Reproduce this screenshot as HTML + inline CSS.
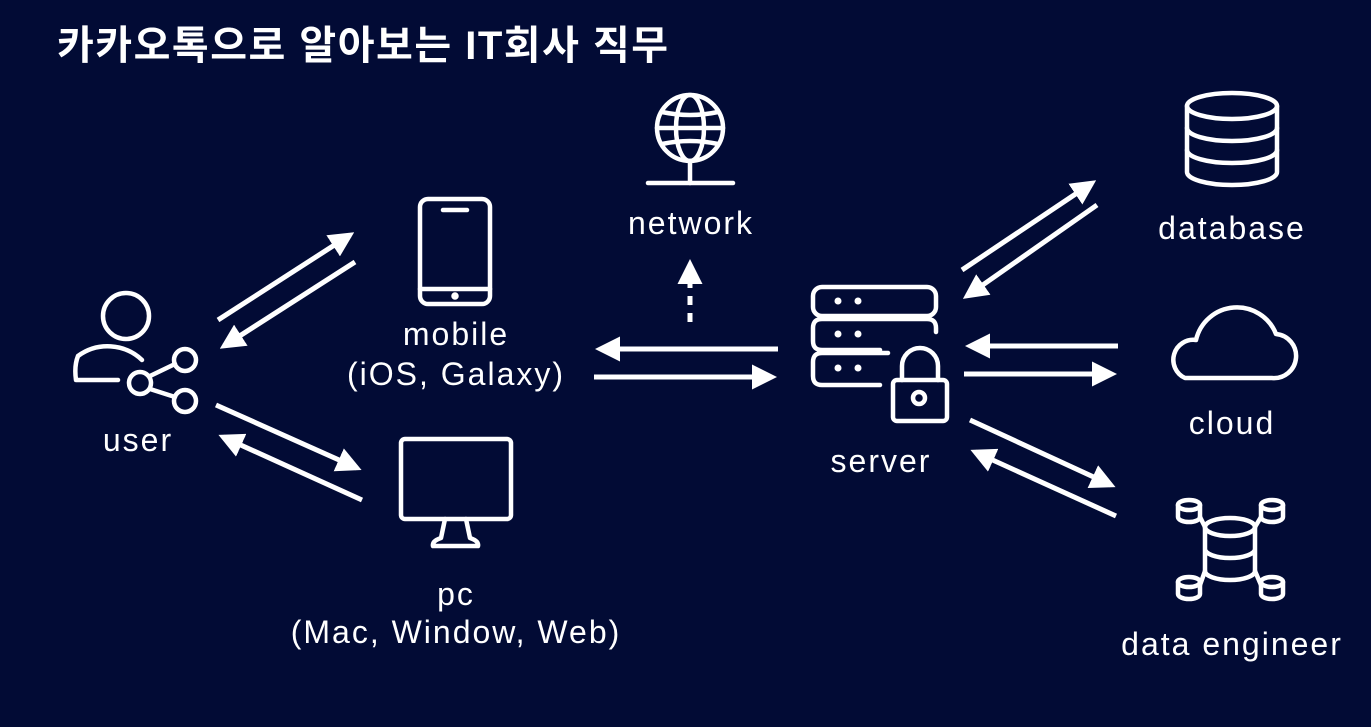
<!DOCTYPE html>
<html><head><meta charset="utf-8"><style>
html,body{margin:0;padding:0;background:#020b35;}
svg{display:block}
text{font-family:"Liberation Sans","Noto Sans CJK KR",sans-serif;fill:#fff;}
</style></head><body>
<svg width="1371" height="727" viewBox="0 0 1371 727" xmlns="http://www.w3.org/2000/svg">
<defs>
<marker id="a" markerWidth="5" markerHeight="5" refX="4" refY="2.5" orient="auto" markerUnits="strokeWidth">
<path d="M0,0 L5,2.5 L0,5 Z" fill="#fff"/></marker>
</defs>
<rect width="1371" height="727" fill="#020b35"/>
<text x="57" y="59" font-size="40" font-weight="bold" letter-spacing="1.5">카카오톡으로 알아보는 IT회사 직무</text>
<g stroke="#fff" stroke-width="5" fill="none" marker-end="url(#a)">
<line x1="218" y1="320" x2="350" y2="235"/>
<line x1="355" y1="262" x2="224" y2="346"/>
<line x1="216" y1="405" x2="357" y2="468"/>
<line x1="362" y1="500" x2="223" y2="437"/>
<line x1="778" y1="349" x2="600" y2="349"/>
<line x1="594" y1="377" x2="772" y2="377"/>
<line x1="690" y1="322" x2="690" y2="264" stroke-dasharray="9,8"/>
<line x1="962" y1="270" x2="1092" y2="183"/>
<line x1="1097" y1="205" x2="967" y2="296"/>
<line x1="1118" y1="346" x2="970" y2="346"/>
<line x1="964" y1="374" x2="1112" y2="374"/>
<line x1="970" y1="420" x2="1111" y2="485"/>
<line x1="1116" y1="516" x2="975" y2="452"/>
</g>
<g stroke="#fff" stroke-width="4.5" fill="none" stroke-linecap="round" stroke-linejoin="round">
<circle cx="126" cy="316" r="23"/>
<path d="M142,360 A50,50 0 0 0 78,356 Q74,366 76,380 L118,380"/>
<circle cx="185" cy="360" r="11"/><circle cx="140" cy="383" r="11"/><circle cx="185" cy="401" r="11"/>
<line x1="150" y1="376" x2="175" y2="364"/><line x1="150" y1="389" x2="175" y2="397"/>
<rect x="420" y="199" width="70" height="105" rx="8"/>
<line x1="443" y1="210" x2="467" y2="210"/>
<line x1="420" y1="289" x2="490" y2="289"/>
<circle cx="455" cy="296" r="1.5" fill="#fff"/>
<rect x="401" y="439" width="110" height="80" rx="4"/>
<path d="M445,519 L441,538 Q432,541 433,546 L478,546 Q479,541 470,538 L466,519"/>
<circle cx="690" cy="128" r="33"/>
<ellipse cx="690" cy="128" rx="14" ry="33"/>
<line x1="657" y1="128" x2="723" y2="128"/>
<path d="M662,112 Q690,118 718,112 M662,144 Q690,138 718,144"/>
<line x1="690" y1="161" x2="690" y2="183"/>
<line x1="648" y1="183" x2="733" y2="183"/>
<rect x="813" y="287" width="123" height="29" rx="9"/>
<path d="M880,350 L822,350 Q813,350 813,341 L813,328 Q813,319 822,319 L927,319 Q936,319 936,328 L936,332"/>
<path d="M880,385 L822,385 Q813,385 813,376 L813,362 Q813,353 822,353 L888,353"/>
<rect x="893" y="380" width="54" height="41" rx="4"/>
<path d="M902,380 L902,366 A18,18 0 0 1 938,366 L938,380"/>
<circle cx="919" cy="398" r="6"/>
</g>
<g fill="#fff">
<circle cx="838" cy="301" r="3.5"/><circle cx="858" cy="301" r="3.5"/>
<circle cx="838" cy="334" r="3.5"/><circle cx="858" cy="334" r="3.5"/>
<circle cx="838" cy="368" r="3.5"/><circle cx="858" cy="368" r="3.5"/>
</g>
<g stroke="#fff" stroke-width="4.5" fill="none" stroke-linecap="round" stroke-linejoin="round">
<ellipse cx="1232" cy="106" rx="45" ry="13"/>
<path d="M1187,106 L1187,172 A45,13 0 0 0 1277,172 L1277,106"/>
<path d="M1187,128 A45,13 0 0 0 1277,128 M1187,150 A45,13 0 0 0 1277,150"/>
<path d="M1185,378 L1272,378 A22,22 0 0 0 1276,334 A42,42 0 0 0 1196,340 A20,20 0 0 0 1185,378 Z"/>
<ellipse cx="1230" cy="527" rx="25" ry="9"/>
<path d="M1205,527 L1205,571 A25,9 0 0 0 1255,571 L1255,527 M1205,549 A25,9 0 0 0 1255,549"/>
<g id="s">
<ellipse cx="1189" cy="505" rx="11" ry="5"/>
<path d="M1178,505 L1178,517 A11,5 0 0 0 1200,517 L1200,505"/>
</g>
<use href="#s" x="83"/>
<use href="#s" y="77"/>
<use href="#s" x="83" y="77"/>
<path d="M1200,517 L1205,527 M1261,517 L1255,527 M1200,585 L1205,571 M1261,585 L1255,571"/>
</g>
<g font-size="32" text-anchor="middle" letter-spacing="2">
<text x="691" y="234">network</text>
<text x="456" y="345">mobile</text>
<text x="456" y="385">(iOS, Galaxy)</text>
<text x="138" y="451">user</text>
<text x="456" y="605">pc</text>
<text x="456" y="643">(Mac, Window, Web)</text>
<text x="881" y="472">server</text>
<text x="1232" y="239">database</text>
<text x="1232" y="434">cloud</text>
<text x="1232" y="655">data engineer</text>
</g>
</svg>
</body></html>
